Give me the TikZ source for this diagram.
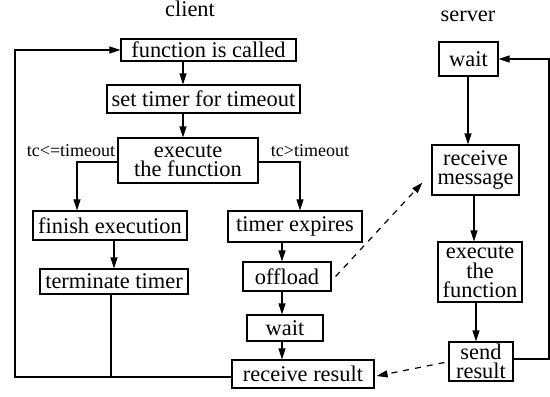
\documentclass[tikz,border=0pt]{standalone}
\usepackage{fontspec}
\setmainfont{Liberation Serif}
\usetikzlibrary{arrows.meta,calc}
\begin{document}
\begin{tikzpicture}[x=0.5pt,y=-0.5pt,
  box/.style={draw,line width=0.6pt,inner sep=0pt,align=center,font=\fontsize{11.2}{9.7}\selectfont},
  lab/.style={inner sep=0pt,font=\fontsize{9}{10}\selectfont},
  ttl/.style={inner sep=0pt,font=\fontsize{11.2}{12}\selectfont},
  arr/.style={line width=0.6pt,-{Triangle[length=5.5pt,width=3.5pt]}},
  ln/.style={line width=0.6pt},
  darr/.style={arr,dash pattern=on 3pt off 3pt}]
\useasboundingbox (0,0) rectangle (550,396);
% titles
\node[ttl] (client) at (190,9) {client};
\node[ttl] (server) at (468,16) {server};
% client boxes
\node[box,minimum width=87.5pt,minimum height=11pt] (fc) at (208.5,50) {function is called};
\node[box,minimum width=96.5pt,minimum height=14pt] (st) at (203.5,99) {set timer for timeout};
\node[box,minimum width=70pt,minimum height=22.5pt] (ex) at (188,160.5) {execute\\the function};
\node[box,minimum width=77pt,minimum height=14.5pt] (fe) at (110,225.5) {finish execution};
\node[box,minimum width=74pt,minimum height=12.5pt] (tt) at (114,281.5) {terminate timer};
\node[box,minimum width=67pt,minimum height=15.5pt] (te) at (295,226.5) {timer expires};
\node[box,minimum width=44pt,minimum height=14.5pt] (of) at (287,276.5) {offload};
\node[box,minimum width=38pt,minimum height=13pt] (cw) at (285,328) {wait};
\node[box,minimum width=71pt,minimum height=14pt] (rr) at (303,374) {receive result};
% server boxes
\node[box,minimum width=29.5pt,minimum height=17pt] (sw) at (468.5,59) {wait};
\node[box,minimum width=43.5pt,minimum height=25pt] (rm) at (475.5,170) {receive\\message};
\node[box,minimum width=42pt,minimum height=30pt] (sx) at (480,272) {execute\\the\\function};
\node[box,minimum width=32pt,minimum height=19.5pt] (sr) at (481,361.5) {send\\result};
% labels
\node[lab] (l1) at (71,151) {tc<=timeout};
\node[lab] (l2) at (310,151) {tc>timeout};
% helper coordinates
\coordinate (xA) at (183,0);
\coordinate (yE) at (0,162);
\coordinate (xL) at (77,0);
\coordinate (xR) at (300,0);
\coordinate (xF) at (114,0);
\coordinate (xT) at (111,0);
\coordinate (yB) at (0,377);
\coordinate (xLL) at (15,0);
\coordinate (xC) at (282,0);
\coordinate (xW) at (468,0);
\coordinate (xM) at (474,0);
\coordinate (xX) at (476,0);
\coordinate (yS) at (0,359);
\coordinate (xS) at (549,0);
% client connectors
\draw[arr] (fc.south -| xA) -- (st.north -| xA);
\draw[arr] (st.south -| xA) -- (ex.north -| xA);
\draw[arr] (ex.west |- yE) -| (fe.north -| xL);
\draw[arr] (ex.east |- yE) -| (te.north -| xR);
\draw[arr] (fe.south -| xF) -- (tt.north -| xF);
\draw[ln] (tt.south -| xT) -- (xT |- yB);
\draw[arr] (rr.west |- yB) -| (xLL |- fc.west) -- (fc.west);
\draw[arr] (te.south -| xC) -- (of.north -| xC);
\draw[arr] (of.south -| xC) -- (cw.north -| xC);
\draw[arr] (cw.south -| xC) -- (rr.north -| xC);
% server connectors
\draw[arr] (sw.south -| xW) -- (rm.north -| xW);
\draw[arr] (rm.south -| xM) -- (sx.north -| xM);
\draw[arr] (sx.south -| xX) -- (sr.north -| xX);
\draw[arr] (sr.east |- yS) -| (xS |- sw.east) -- (sw.east);
% dashed messages
\draw[darr] ($(of.east)+(4,0)$) -- ($(rm.south west)+(-9,-13)$);
\draw[darr] ($(sr.west)+(-4,1)$) -- ($(rr.east)+(2,2)$);
\end{tikzpicture}
\end{document}
